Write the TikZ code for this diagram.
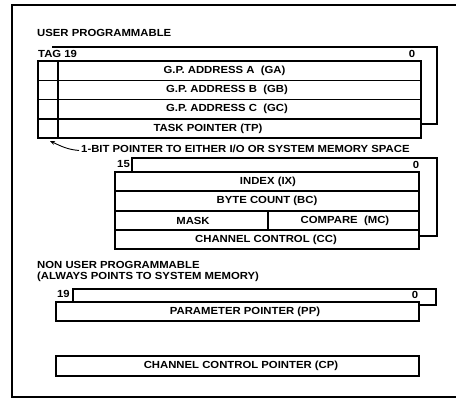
\documentclass[tikz,border=0pt]{standalone}
\usepackage{fontspec}
\newfontfamily\regfont{Liberation Sans}[FakeStretch=1.1]
\usetikzlibrary{arrows.meta}
\tikzset{
  regline/.style={line width=1.3pt},
  reglbl/.style={font=\regfont\bfseries\fontsize{10.3}{12}\selectfont,inner sep=0pt},
  bitno/.style={reglbl,anchor=west},
}

\begin{document}
\begin{tikzpicture}[x=1pt,y=-1pt]
  \useasboundingbox (0,0) rectangle (456,401);
  % frame
  \draw[regline] (456,5) -- (12,5) -- (12,397) -- (456,397);

  % user programmable block
  \node[bitno] (userhd) at (37,33) {USER PROGRAMMABLE};
  \draw[regline] (52,47) -- (437,47) -- (437,124) -- (421,124);
  \node[bitno] (tag) at (38,54) {TAG 19};
  \node[reglbl] (zeroa) at (412,54) {0};
  \draw[regline,fill=white] (38,61) rectangle (421,138);
  \foreach \y in {80.3,99.6,118.9} \draw[regline] (38,\y) -- (421,\y);
  \draw[regline] (58,61) -- (58,138);
  \node[reglbl] (ga) at (224.5,70.5) {G.P. ADDRESS A\ \ (GA)};
  \node[reglbl] (gb) at (227,90) {G.P. ADDRESS B\ \ (GB)};
  \node[reglbl] (gc) at (227,109.3) {G.P. ADDRESS C\ \ (GC)};
  \node[reglbl] (tp) at (208,128.5) {TASK POINTER (TP)};
  \coordinate (tagtip) at (50,141);
  \node[bitno] (bitlbl) at (81,148.5) {1-BIT POINTER TO EITHER I/O OR SYSTEM MEMORY SPACE};
  \draw[line width=0.9pt,-{Stealth[length=5pt,width=4pt]}] ([xshift=-2pt,yshift=-2pt]bitlbl.west) to[out=175,in=-25] (tagtip);

  % channel block
  \draw[regline] (132,172) -- (132,158) -- (437,158) -- (437,236) -- (419,236);
  \node[bitno] (fifteen) at (117,164) {15};
  \node[reglbl] (zerob) at (416,164.5) {0};
  \draw[regline,fill=white] (115,172) rectangle (419,249);
  \foreach \y in {191,211,230} \draw[regline] (115,\y) -- (419,\y);
  \draw[regline] (268,211) -- (268,230);
  \node[reglbl] (ix) at (268,181.5) {INDEX (IX)};
  \node[reglbl] (bc) at (267,201) {BYTE COUNT (BC)};
  \node[reglbl] (mask) at (193,220.5) {MASK};
  \node[reglbl] (mc) at (345,220.5) {COMPARE\ \ (MC)};
  \node[reglbl] (cc) at (266,240) {CHANNEL CONTROL (CC)};

  % non user programmable
  \node[bitno] (nonhd) at (37,265) {NON USER PROGRAMMABLE};
  \node[bitno] (sysmem) at (37,276.5) {(ALWAYS POINTS TO SYSTEM MEMORY)};
  \draw[regline] (73,302) -- (73,289) -- (436,289) -- (436,305) -- (419,305);
  \node[bitno] (nineteen) at (57,293.5) {19};
  \node[reglbl] (zeroc) at (415,295) {0};
  \draw[regline,fill=white] (56,302) rectangle (419,321);
  \node[reglbl] (pp) at (245,312) {PARAMETER POINTER (PP)};
  \draw[regline] (56,356) rectangle (419,376);
  \node[reglbl] (cp) at (241,366) {CHANNEL CONTROL POINTER (CP)};
\end{tikzpicture}
\end{document}
